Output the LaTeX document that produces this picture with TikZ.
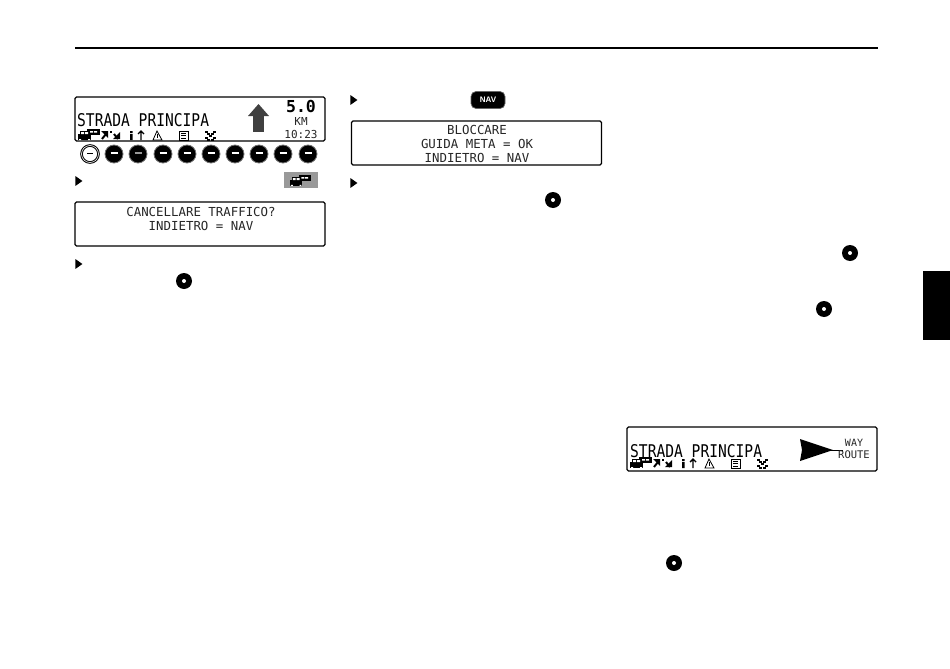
\documentclass[tikz,border=0pt]{standalone}
\usepackage{fontspec}
\usepackage{graphicx}
\setmonofont{DejaVu Sans Mono}
\setsansfont{Liberation Sans}
\usetikzlibrary{positioning,shapes.geometric}
\newcommand{\tall}[1]{\scalebox{1}[1.2]{#1}}
\newcommand{\keybar}{\textcolor{white}{\rule[0.4ex]{7pt}{2pt}}}
\tikzset{
    carsicon/.pic={
        \fill (0,-1) rectangle (13,5);
        \fill (2,-4) rectangle (11,-1);
        \fill (9,-6) rectangle (22,0);
        \fill[white] (3,-3) rectangle (6,-1) (7,-3) rectangle (10,-1);
        \fill[white] (1,4) rectangle (3,5) (10,4) rectangle (12,5);
        \fill[white] (12,-4) rectangle (15,-2.5) (16,-4) rectangle (19,-2.5);
    },
    statusicons/.pic={
        % arrows
        \draw[line width=2pt] (24,4) -- (28,-1) (40,4) -- (36,-1);
        \fill (23,-4) -- (30,-4) -- (30,3) -- cycle;
        \fill (42,-3) -- (42,4) -- (35,4) -- cycle;
        \fill (32,-4) rectangle (34,-2);
        % info
        \fill (52,-4) rectangle (54.5,-2) (52,-1) rectangle (54.5,5);
        \draw[line width=1.4pt] (63,5) -- (63,-4) (60,-1) -- (63,-4) -- (66,-1);
        % warning
        \draw[line width=0.8pt] (79,-4) -- (75,5) -- (84,5) -- cycle;
        \fill (78.5,-1) rectangle (79.5,3);
        % list
        \draw[line width=0.9pt] (101,-4) rectangle (110,5);
        \draw[line width=0.8pt] (103,-2) -- (108,-2) (103,0.5) -- (108,0.5) (103,3) -- (108,3);
        % flag
        \foreach \px/\py in {127/-4,135/-4,129/-2,133/-2,131/0,127/2,135/2,129/4,133/4}
            \fill (\px,\py) rectangle ++(3,2);
    }
}
\begin{document}
\begin{tikzpicture}[x=1pt, y=-1pt,
    display/.style={draw=black, line width=1.1pt, rounded corners=1.5pt, minimum width=250pt, minimum height=44pt},
    lcdbig/.style={font=\ttfamily\fontsize{14.6}{14.6}\selectfont, inner sep=0pt},
    lcd/.style={font=\ttfamily\fontsize{12.4}{12.4}\selectfont, inner sep=0pt, color=black!85},
    lcdsmall/.style={font=\ttfamily\fontsize{11}{11}\selectfont, inner sep=0pt, color=black!85},
    softkey/.style={circle, draw=black!55, line width=0.8pt, fill=black, minimum size=18pt, inner sep=0pt},
    softkeyon/.style={circle, draw=black, line width=1pt, double=white, fill=white, minimum size=17pt, inner sep=0pt},
    knob/.style={circle, fill=black, minimum size=16pt, inner sep=0pt,
        path picture={\fill[white] (path picture bounding box.center) circle (2pt);}},
    bullet/.style={isosceles triangle, isosceles triangle apex angle=70, fill=black, minimum height=7pt, minimum width=8pt, inner sep=0pt}]
    \useasboundingbox (0,0) rectangle (950,669);

    \draw[line width=1.4pt] (75,48) coordinate (rule_l) -- (878,48) coordinate (rule_r);
    \node [fill=black, minimum width=27pt, minimum height=69pt, inner sep=0pt, anchor=north west] (tab) at (923,271) {};

    % first column
    \node [display] (disp_1) at (200,119) {};
    \node [lcdbig, anchor=west] (road_1) at (77,120) {\tall{STRADA PRINCIPA}};
    \pic at (78,135) {statusicons};
    \pic at (78,135) {carsicon};
    \node [shape=rectangle, fill=black!75, minimum width=10.5pt, minimum height=16pt, inner sep=0pt] (shaft) at (258.5,124) {};
    \fill[black!75] (248,116) -- (258.5,104) -- (269,116) -- cycle;
    \node [font=\ttfamily\bfseries\fontsize{16.5}{16.5}\selectfont, inner sep=0pt] (dist) at (301,106.5) {5.0};
    \node [lcdsmall] (unit) at (301,121) {KM};
    \node [lcdsmall] (clock) at (301,134) {10:23};

    \node [softkeyon] (key_1) at (90,154) {\rule[0.4ex]{6pt}{1.2pt}};
    \node [softkey] (key_2) at (114,154) {\keybar};
    \node [softkey] (key_3) at (138,154) {\textcolor{black!40}{\rule[0.4ex]{7pt}{2pt}}};
    \node [softkey] (key_4) at (163,154) {\keybar};
    \node [softkey] (key_5) at (187,154) {\keybar};
    \node [softkey] (key_6) at (211,154) {\keybar};
    \node [softkey] (key_7) at (235,154) {\keybar};
    \node [softkey] (key_8) at (259,154) {\keybar};
    \node [softkey] (key_9) at (283,154) {\keybar};
    \node [softkey] (key_10) at (308,154) {\keybar};

    \node [bullet] (bul_1) at (78,181) {};
    \node [fill=black!40, minimum width=34pt, minimum height=16pt, inner sep=0pt] (softbox) at (301,180) {};
    \pic[scale=0.95] at (290,181) {carsicon};

    \node [display] (disp_2) at (200,224) {};
    \node [lcd] (del_1) at (201,212) {CANCELLARE TRAFFICO?};
    \node [lcd] (del_2) at (201,225.5) {INDIETRO = NAV};

    \node [bullet] (bul_2) at (78,264) {};
    \node [knob] (knob_1) at (184,281) {};

    % second column
    \node [bullet] (bul_3) at (353,100) {};
    \node [draw=black!60, line width=0.7pt, fill=black, rounded corners=5pt, minimum width=34pt, minimum height=17pt, inner sep=0pt,
        text=white, font=\sffamily\bfseries\fontsize{8}{8}\selectfont] (nav) at (488,100) {NAV};

    \node [display] (disp_3) at (476.5,143) {};
    \node [lcd] (lock_1) at (477,130) {BLOCCARE};
    \node [lcd] (lock_2) at (477,144) {GUIDA META = OK};
    \node [lcd] (lock_3) at (477,158) {INDIETRO = NAV};

    \node [bullet] (bul_4) at (353,183) {};
    \node [knob] (knob_2) at (553,200) {};

    % third column
    \node [knob] (knob_3) at (850,253) {};
    \node [knob] (knob_4) at (824,309) {};

    \node [display] (disp_4) at (752,449) {};
    \node [lcdbig, anchor=west] (road_2) at (630,451) {\tall{STRADA PRINCIPA}};
    \pic at (630,463) {statusicons};
    \pic at (630,463) {carsicon};
    \fill (800,439) -- (833,450) -- (800,461) -- (802,450) -- cycle;
    \draw[line width=1pt] (830,450) -- (843,450);
    \node [lcdsmall, font=\ttfamily\fontsize{10}{10}\selectfont] (way) at (854,442.5) {WAY};
    \node [lcdsmall, font=\ttfamily\fontsize{10.5}{10.5}\selectfont] (route) at (854,454.5) {ROUTE};

    \node [knob] (knob_5) at (674,563) {};
\end{tikzpicture}
\end{document}
